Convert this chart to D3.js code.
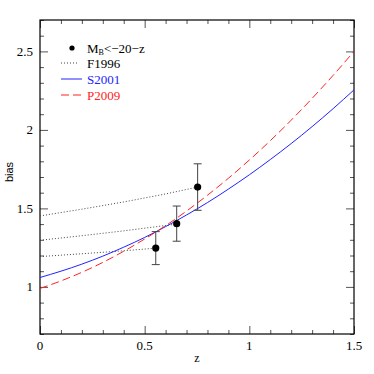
<!DOCTYPE html>
<html><head><meta charset="utf-8">
<script src="https://cdn.jsdelivr.net/npm/d3@7"></script>
<style>body{margin:0;background:#fff}svg{display:block}</style>
</head><body>
<svg id="c" width="374" height="374"></svg>
<script>
// ---- data ----
const zGrid = [0,0.1,0.2,0.3,0.4,0.5,0.6,0.7,0.8,0.9,1.0,1.1,1.2,1.3,1.4,1.5];
const s2001 = [1.060,1.100,1.145,1.196,1.253,1.315,1.384,1.458,1.537,1.623,1.714,1.811,1.913,2.021,2.135,2.255];
const p2009 = [0.990,1.038,1.093,1.156,1.227,1.305,1.390,1.483,1.584,1.692,1.808,1.931,2.062,2.201,2.347,2.500];
const fryZ = [[0,0.2,0.4,0.553],[0,0.2,0.4,0.653],[0,0.2,0.4,0.6,0.753]];
const fryB = [[1.193,1.211,1.230,1.247],[1.297,1.326,1.357,1.400],[1.452,1.495,1.541,1.592,1.636]];
const obsZ = [0.553,0.653,0.753];
const obsB = [1.247,1.403,1.636];
const obsErr = [0.105,0.112,0.148];
const xMajor = [0,0.5,1,1.5];
const yMajor = [1,1.5,2,2.5];
const legendLabels = ["F1996","S2001","P2009"];

// ---- layout ----
const L=40,R=354,T=20,B=334;
const x = d3.scaleLinear().domain([0,1.5]).range([L,R]);
const y = d3.scaleLinear().domain([0.7,2.7]).range([B,T]);
const svg = d3.select("#c");
const serif = "'Liberation Serif', 'Times New Roman', serif";
const sans = "'Liberation Sans', Arial, sans-serif";

const xMinor = d3.range(0,1.5001,0.1).map(v=>+v.toFixed(2)).filter(v=>!xMajor.some(m=>Math.abs(m-v)<1e-6));
const yMinor = d3.range(0.7,2.7001,0.1).map(v=>+v.toFixed(2)).filter(v=>!yMajor.some(m=>Math.abs(m-v)<1e-6));

function axis(gen, scale, ticks, len, pos){
  const g = svg.append("g").attr("transform",pos);
  g.call(gen(scale).tickValues(ticks).tickSize(len).tickFormat(""));
  g.select(".domain").remove();
  g.selectAll(".tick line").attr("stroke","#555").attr("stroke-width",1);
  return g;
}
// inward ticks: bottom axis ticks go up => axisTop at bottom
axis(d3.axisTop, x, xMajor, 8, `translate(0,${B})`);
axis(d3.axisTop, x, xMinor, 4, `translate(0,${B})`);
axis(d3.axisBottom, x, xMajor, 8, `translate(0,${T})`);
axis(d3.axisBottom, x, xMinor, 4, `translate(0,${T})`);
axis(d3.axisRight, y, yMajor, 8, `translate(${L},0)`);
axis(d3.axisRight, y, yMinor, 4, `translate(${L},0)`);
axis(d3.axisLeft, y, yMajor, 8, `translate(${R},0)`);
axis(d3.axisLeft, y, yMinor, 4, `translate(${R},0)`);

// tick labels
const fmt = v => (v===0?"0":String(v));
svg.append("g").selectAll("text").data(xMajor).join("text")
  .attr("x",d=>x(d)).attr("y",B+16).attr("text-anchor","middle")
  .attr("font-family",serif).attr("font-size",13).text(fmt);
svg.append("g").selectAll("text").data(yMajor).join("text")
  .attr("x",L-7).attr("y",d=>y(d)+4.5).attr("text-anchor","end")
  .attr("font-family",serif).attr("font-size",13).text(fmt);

// frame
svg.append("rect").attr("x",L).attr("y",T).attr("width",R-L).attr("height",B-T)
  .attr("fill","none").attr("stroke","#000").attr("stroke-width",1.2);

// axis titles
svg.append("text").attr("x",197).attr("y",362).attr("text-anchor","middle")
  .attr("font-family",serif).attr("font-size",12).text("z");
svg.append("text").attr("transform","translate(13,172) rotate(-90)").attr("text-anchor","middle")
  .attr("font-family",sans).attr("font-size",11).text("bias");

const plot = svg.append("g");
const line = d3.line().x(d=>x(d[0])).y(d=>y(d[1]));

// F1996 dotted lines
fryZ.forEach((zs,i)=>{
  plot.append("path").datum(zs.map((z,j)=>[z,fryB[i][j]])).attr("d",line)
    .attr("fill","none").attr("stroke","#444").attr("stroke-width",1).attr("stroke-dasharray","1,2");
});
// S2001
plot.append("path").datum(zGrid.map((z,i)=>[z,s2001[i]])).attr("d",d3.line().curve(d3.curveMonotoneX).x(d=>x(d[0])).y(d=>y(d[1])))
  .attr("fill","none").attr("stroke","#2222ff").attr("stroke-width",1);
// P2009
plot.append("path").datum(zGrid.map((z,i)=>[z,p2009[i]])).attr("d",d3.line().curve(d3.curveMonotoneX).x(d=>x(d[0])).y(d=>y(d[1])))
  .attr("fill","none").attr("stroke","#ff2222").attr("stroke-width",1).attr("stroke-dasharray","8,4");

// error bars + points
const eb = plot.append("g").attr("stroke","#444").attr("stroke-width",1);
obsZ.forEach((z,i)=>{
  const cx=x(z), y0=y(obsB[i]-obsErr[i]), y1=y(obsB[i]+obsErr[i]);
  eb.append("line").attr("x1",cx).attr("x2",cx).attr("y1",y0).attr("y2",y1);
  eb.append("line").attr("x1",cx-4).attr("x2",cx+4).attr("y1",y0).attr("y2",y0);
  eb.append("line").attr("x1",cx-4).attr("x2",cx+4).attr("y1",y1).attr("y2",y1);
});
plot.append("g").selectAll("circle").data(obsZ).join("circle")
  .attr("cx",d=>x(d)).attr("cy",(d,i)=>y(obsB[i])).attr("r",3.6).attr("fill","#000");

// legend
const lg = svg.append("g");
lg.append("circle").attr("cx",72).attr("cy",48).attr("r",2.6).attr("fill","#000");
const t0 = lg.append("text").attr("x",87).attr("y",53).attr("font-family",serif).attr("font-size",13);
t0.append("tspan").text("M");
t0.append("tspan").attr("font-size",8).attr("dy",2).text("B");
t0.append("tspan").attr("dy",-2).text("<\u221220\u2212z");
const legStyles = [{c:"#444",d:"1,2",x2:77},{c:"#2222ff",d:null,x2:82},{c:"#ff2222",d:"8,4",x2:82}];
legendLabels.forEach((lab,i)=>{
  const yy = 63+16*i;
  lg.append("line").attr("x1",61).attr("x2",legStyles[i].x2).attr("y1",yy).attr("y2",yy)
    .attr("stroke",legStyles[i].c).attr("stroke-width",1).attr("stroke-dasharray",legStyles[i].d);
  lg.append("text").attr("x",87).attr("y",yy+5).attr("font-family",serif).attr("font-size",13)
    .attr("fill",i===0?"#000":legStyles[i].c).text(lab);
});
</script>
</body></html>
